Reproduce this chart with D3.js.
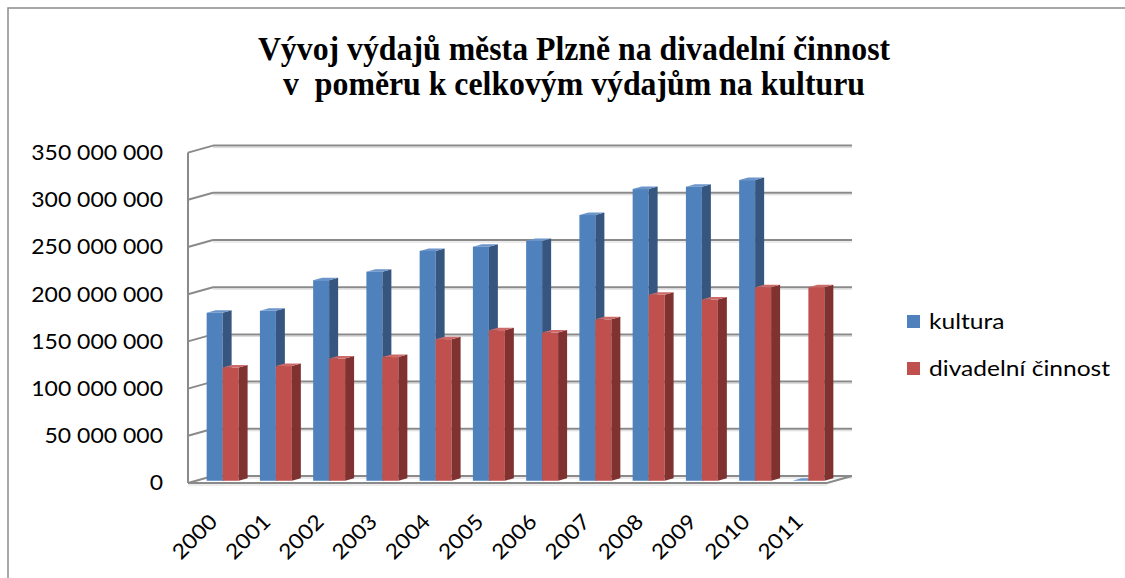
<!DOCTYPE html>
<html>
<head>
<meta charset="utf-8">
<title>Vývoj výdajů města Plzně</title>
<script src="https://d3js.org/d3.v7.min.js"></script>
<style>
    body { margin: 0; background: #fff; }
    .title { font-family: "Liberation Serif", "Times New Roman", serif; font-weight: bold; font-size: 34px; text-anchor: middle; }
    .lbl { font-family: Lato, "Open Sans", sans-serif; font-size: 21px; fill: #000; }
    .grid { stroke: #8a8a8a; stroke-width: 2; fill: none; }
    .grid-shadow { stroke: #d9d9d9; stroke-width: 1; fill: none; }
</style>
</head>
<body>
<div id="chart"></div>
<script>
    // data
    const years = ['2000', '2001', '2002', '2003', '2004', '2005', '2006', '2007', '2008', '2009', '2010', '2011'];
    const kultura = [178e6, 180e6, 212.5e6, 221.5e6, 243.5e6, 248e6, 254e6, 281.5e6, 309e6, 311.5e6, 318.5e6, 0];
    const divadelni = [120e6, 121.5e6, 129.5e6, 131e6, 150e6, 159.5e6, 157e6, 171e6, 197e6, 192e6, 205e6, 205e6];
    const seriesNames = ['kultura', 'divadelní činnost'];
    const yTicks = [0, 50e6, 100e6, 150e6, 200e6, 250e6, 300e6, 350e6];
    const titleLines = ['Vývoj výdajů města Plzně na divadelní činnost', 'v  poměru k celkovým výdajům na kulturu'];

    const W = 1125, H = 578;
    // the fonts in the picture are a little wider / narrower than what we have
    const SX_AXIS = 1.095, SX_LEG = 1.17, SX_TITLE = 0.935;

    // front-bottom edge of the 3D plot and the depth vector (front -> back)
    const x0 = 188, x1 = 827, y0 = 483;
    const dep = { dx: 25, dy: -7 };
    const barFront = 0.32, barBack = 0.68;

    const colors = {
        kultura: { front: '#4F81BD', side: '#36557F', top: '#6B95C9' },
        'divadelní činnost': { front: '#C0504D', side: '#7F3230', top: '#CD6A67' }
    };

    const svg = d3.select('#chart').append('svg')
        .attr('width', W)
        .attr('height', H);

    // chart frame
    svg.append('rect')
        .attr('x', 8).attr('y', 8)
        .attr('width', W + 20).attr('height', H + 20)
        .attr('fill', 'none')
        .attr('stroke', '#8c8c8c')
        .attr('stroke-width', 1.5);

    const h = d3.scaleLinear().domain([0, 350e6]).range([0, 330.4]);
    const x = d3.scaleBand().domain(years).range([x0, x1]).paddingInner(0.4).paddingOuter(0.2);
    const sub = d3.scaleBand().domain(seriesNames).range([0, x.bandwidth()]);

    const gGrid = svg.append('g');

    // back wall gridlines + left wall ticks
    yTicks.forEach(v => {
        const yb = y0 + dep.dy - h(v);
        const yf = y0 - h(v);
        gGrid.append('line').attr('class', 'grid-shadow')
            .attr('x1', x0 + dep.dx).attr('x2', x1 + dep.dx)
            .attr('y1', yb + 2).attr('y2', yb + 2);
        gGrid.append('line').attr('class', 'grid')
            .attr('x1', x0 + dep.dx).attr('x2', x1 + dep.dx)
            .attr('y1', yb).attr('y2', yb);
        gGrid.append('line').attr('class', 'grid')
            .attr('x1', x0).attr('y1', yf)
            .attr('x2', x0 + dep.dx).attr('y2', yb);
    });

    // left wall front edge and floor
    gGrid.append('line').attr('class', 'grid')
        .attr('x1', x0).attr('x2', x0)
        .attr('y1', y0 - h(350e6)).attr('y2', y0);
    gGrid.append('path').attr('class', 'grid')
        .attr('d', `M${x0},${y0}L${x1},${y0}L${x1 + dep.dx},${y0 + dep.dy}`);
    gGrid.append('line').attr('class', 'grid-shadow')
        .attr('x1', x0).attr('x2', x1)
        .attr('y1', y0 + 2).attr('y2', y0 + 2);

    // 3D bars
    const fx = barFront * dep.dx, fy = barFront * dep.dy;
    const dd = (barBack - barFront) * dep.dx, dv = (barBack - barFront) * dep.dy;

    const bars = [];
    years.forEach((yr, i) => {
        bars.push({ year: yr, s: 'kultura', v: kultura[i] });
        bars.push({ year: yr, s: 'divadelní činnost', v: divadelni[i] });
    });

    const gBars = svg.append('g');
    bars.forEach(d => {
        const bx = x(d.year) + sub(d.s) + fx;
        const bw = sub.bandwidth();
        const yBase = y0 + fy;
        const yTop = yBase - h(d.v);
        const c = colors[d.s];
        const g = gBars.append('g');
        g.append('rect')
            .attr('x', bx).attr('y', yTop)
            .attr('width', bw).attr('height', yBase - yTop)
            .attr('fill', c.front);
        g.append('path')
            .attr('d', `M${bx + bw},${yBase}L${bx + bw + dd},${yBase + dv}L${bx + bw + dd},${yTop + dv}L${bx + bw},${yTop}Z`)
            .attr('fill', c.side);
        g.append('path')
            .attr('d', `M${bx},${yTop}L${bx + dd},${yTop + dv}L${bx + bw + dd},${yTop + dv}L${bx + bw},${yTop}Z`)
            .attr('fill', c.top);
    });

    // y axis labels
    const fmt = v => d3.format(',')(v).replace(/,/g, ' ');
    svg.append('g').selectAll('text')
        .data(yTicks)
        .join('text')
        .attr('class', 'lbl')
        .attr('text-anchor', 'end')
        .attr('dominant-baseline', 'middle')
        .attr('transform', v => `translate(163,${y0 - h(v) + 2}) scale(${SX_AXIS},1)`)
        .text(fmt);

    // x axis labels
    svg.append('g').selectAll('text')
        .data(years)
        .join('text')
        .attr('class', 'lbl')
        .attr('text-anchor', 'end')
        .attr('transform', d => `translate(${x(d) + x.bandwidth() / 2 + 4},${y0 + 40}) rotate(-45) scale(${SX_AXIS},1)`)
        .text(d => d);

    // title
    svg.append('g').selectAll('text')
        .data(titleLines)
        .join('text')
        .attr('class', 'title')
        .attr('transform', (d, i) => `translate(574,${60 + i * 35}) scale(${SX_TITLE},1)`)
        .style('white-space', 'pre')
        .text(d => d);

    // legend
    const leg = svg.append('g').selectAll('g')
        .data(seriesNames)
        .join('g')
        .attr('transform', (d, i) => `translate(907,${315 + i * 47})`);
    leg.append('rect')
        .attr('width', 13).attr('height', 13)
        .attr('fill', d => colors[d].front);
    leg.append('text')
        .attr('class', 'lbl')
        .attr('transform', `translate(22,14) scale(${SX_LEG},1)`)
        .text(d => d);
</script>
</body>
</html>
